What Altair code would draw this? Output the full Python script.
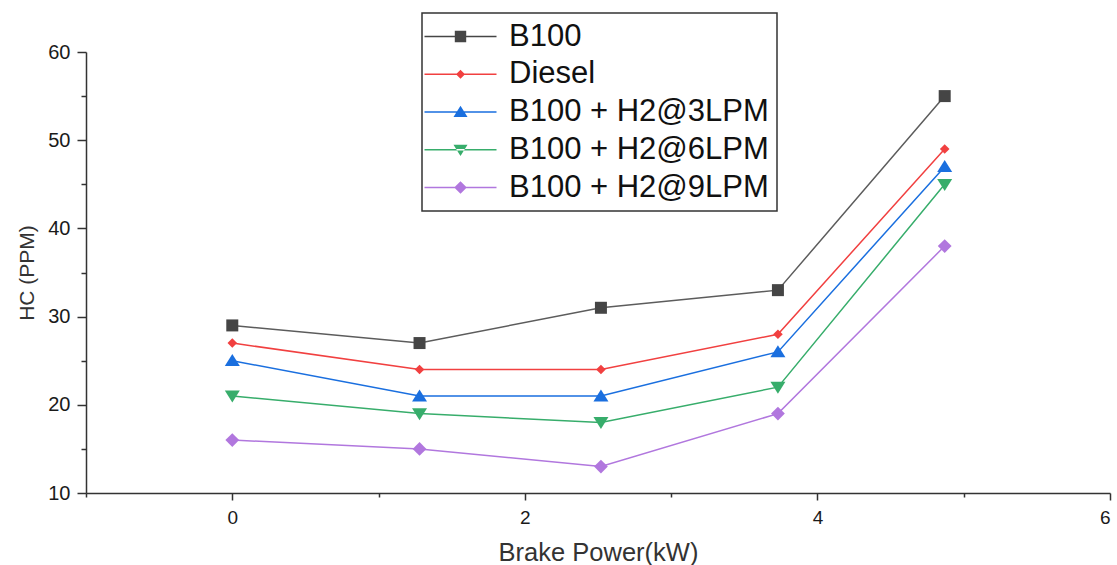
import altair as alt
import pandas as pd

series = ["B100", "Diesel", "B100 + H2@3LPM", "B100 + H2@6LPM", "B100 + H2@9LPM"]
brake_power = [0, 1.28, 2.52, 3.73, 4.87]
hc_b100 = [29, 27, 31, 33, 55]
hc_diesel = [27, 24, 24, 28, 49]
hc_h2_3 = [25, 21, 21, 26, 47]
hc_h2_6 = [21, 19, 18, 22, 45]
hc_h2_9 = [16, 15, 13, 19, 38]

colors = ["#454545", "#F14040", "#1A6FDF", "#37AD6B", "#B177DE"]
line_colors = ["#5c5c5c", "#F14040", "#1A6FDF", "#37AD6B", "#B177DE"]
marker_paths = [
    "M-1,-1H1V1H-1Z",
    "M0,-0.8L0.8,0L0,0.8L-0.8,0Z",
    "M0,-1.1L1.25,0.9H-1.25Z",
    "M0,1.1L1.25,-0.9H-1.25Z",
    "M0,-1.15L1.15,0L0,1.15L-1.15,0Z",
]
legend_markers = [
    "M1.55,-0.95H3.45V0.95H1.55Z",
    "M2.5,-0.75L3.25,0L2.5,0.75L1.75,0Z",
    "M2.5,-1.05L3.67,0.85H1.33Z",
    "M2.5,1.05L3.67,-0.85H1.33Z",
    "M2.5,-1.05L3.55,0L2.5,1.05L1.45,0Z",
]
line_path = "M-3.5,-0.13H8.5V0.13H-3.5Z"
legend_paths = [line_path + " " + p for p in legend_markers]

rows = []
for name, vals in zip(series, [hc_b100, hc_diesel, hc_h2_3, hc_h2_6, hc_h2_9]):
    for xv, yv in zip(brake_power, vals):
        rows.append({"series": name, "x": xv, "y": yv})
df = pd.DataFrame(rows)

FONT = "Liberation Sans"
xscale = alt.Scale(domain=[-1, 6], nice=False, zero=False)
yscale = alt.Scale(domain=[10, 60], nice=False, zero=False)

lines = alt.Chart(df).mark_line(strokeWidth=1.5).encode(
    x=alt.X("x:Q", scale=xscale,
            axis=alt.Axis(values=[0, 2, 4, 6], title="Brake Power(kW)", orient="bottom",
                          tickSize=7, labelPadding=8, titlePadding=13, format="d",
                          titleFontSize=25.5, labelFontSize=19)),
    y=alt.Y("y:Q", scale=yscale,
            axis=alt.Axis(values=[10, 20, 30, 40, 50, 60], title="HC (PPM)", orient="left",
                          tickSize=9, labelPadding=7, titlePadding=10, format="d",
                          titleFontSize=21, labelFontSize=20)),
    color=alt.Color("series:N", scale=alt.Scale(domain=series, range=line_colors), legend=None),
    detail="series:N",
)

points = alt.Chart(df).mark_point(filled=True, size=144, opacity=1, strokeWidth=0).encode(
    x=alt.X("x:Q", scale=xscale,
            axis=alt.Axis(values=[-1, 1, 3, 5], labels=False, domain=False, grid=False,
                          tickSize=4, title=None, orient="bottom")),
    y=alt.Y("y:Q", scale=yscale,
            axis=alt.Axis(values=[15, 25, 35, 45, 55], labels=False, domain=False, grid=False,
                          tickSize=5, title=None, orient="left")),
    color=alt.Color("series:N", scale=alt.Scale(domain=series, range=colors), legend=None),
    shape=alt.Shape("series:N", scale=alt.Scale(domain=series, range=marker_paths), legend=None),
)

leg_common = dict(title=None, orient="none", legendX=336, legendY=-39,
                  symbolSize=144, labelOffset=48, labelFontSize=31, labelFont=FONT,
                  labelColor="#111", rowPadding=5.75, padding=8, strokeColor="#333",
                  fillColor="white", labelLimit=500)

legend_layer = alt.Chart(df).transform_filter("datum.x < -50").mark_point(
    filled=True, opacity=1, strokeWidth=0
).encode(
    color=alt.Color("series:N", scale=alt.Scale(domain=series, range=colors),
                    legend=alt.Legend(symbolStrokeWidth=0, **leg_common)),
    shape=alt.Shape("series:N", scale=alt.Scale(domain=series, range=legend_paths),
                    legend=alt.Legend(**leg_common)),
)

chart = alt.layer(lines, points, legend_layer).resolve_scale(
    color="independent", shape="independent"
).resolve_axis(
    x="independent", y="independent"
).properties(
    width=1024, height=441,
    autosize=alt.AutoSizeParams(type="none"),
    padding={"left": 86, "top": 52, "right": 7, "bottom": 72},
).configure_view(stroke=None).configure_axis(
    domainColor="#333", domainWidth=1.5, tickColor="#333", tickWidth=1.5,
    labelFont=FONT, labelColor="#1a1a1a",
    titleFont=FONT, titleFontWeight="normal", titleColor="#333",
    grid=False,
).configure_legend(strokeWidth=1.5)

chart.save("out.html", embed_options={"renderer": "svg", "actions": False})
